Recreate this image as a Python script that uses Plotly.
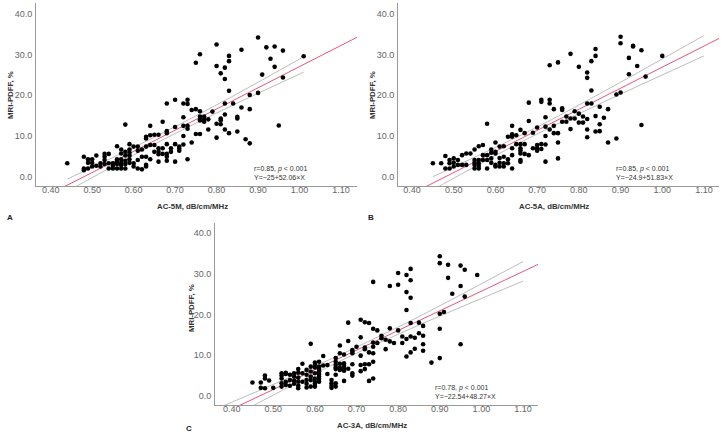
import plotly.graph_objects as go

W, H = 724, 435

# ---------------- data ----------------
A_x = [0.90,0.80,0.92,0.94,0.76,0.86,0.96,0.83,1.01,0.75,
       0.83,0.93,0.80,0.82,0.94,0.81,0.91,0.82,0.96,0.83,
       0.90,0.88,0.82,0.84,0.70,0.68,0.73,0.73,0.72,0.74,
       0.75,0.76,0.79,0.86,0.88,0.72,0.76,0.76,0.77,0.77,
       0.77,0.78,0.76,0.81,0.81,0.82,0.85,0.85,0.67,0.58,
       0.64,0.72,0.73,0.73,0.70,0.68,0.68,0.80,0.81,0.78,
       0.82,0.80,0.83,0.85,0.95,0.75,0.76,0.72,0.66,0.65,
       0.63,0.63,0.64,0.87,0.88,0.74,
       0.70,0.72,0.71,0.71,0.71,0.68,0.69,0.69,0.67,0.64,
       0.65,0.66,0.66,0.66,0.66,0.65,0.67,0.68,0.68,0.68,
       0.70,0.73,0.63,0.62,0.61,0.61,0.60,0.59,0.59,0.59,
       0.59,0.59,0.59,0.58,0.58,0.58,0.58,0.58,0.57,0.57,
       0.57,0.57,0.57,0.57,0.56,0.56,0.56,0.56,0.56,0.55,
       0.55,0.55,0.54,0.54,0.54,0.53,0.53,0.53,0.53,0.52,
       0.52,0.51,0.51,0.50,0.50,0.50,0.49,0.49,0.49,0.48,
       0.48,0.48,0.44,0.61,0.60,0.60,0.62,0.63,0.63,0.64,
       0.62,0.63,0.61]
A_y = [34.2,32.5,31.8,32.0,30.1,31.2,31.0,29.7,29.6,28.0,
       28.4,29.0,27.2,26.8,27.0,25.4,25.1,24.0,24.4,21.1,
       20.6,20.1,18.0,18.0,18.9,18.0,18.9,17.9,18.0,16.4,
       16.6,16.1,16.0,17.0,16.6,14.6,14.8,14.1,14.8,14.1,
       13.5,14.1,13.8,14.3,13.9,15.3,14.7,14.3,13.5,12.8,
       12.5,12.5,12.5,11.8,12.2,11.2,10.7,13.0,12.9,11.6,
       11.6,9.6,10.7,11.1,12.6,10.5,10.5,10.0,10.3,10.3,
       9.8,9.4,10.2,9.2,8.2,8.4,
       8.0,7.9,7.4,6.9,6.4,8.0,7.0,6.1,7.0,7.8,
       7.8,7.0,6.1,5.5,3.7,6.1,5.6,5.6,4.9,3.9,
       3.7,4.3,7.4,6.7,7.4,6.4,7.4,8.0,6.7,5.9,
       5.2,4.3,3.4,6.1,5.2,3.9,3.1,2.0,6.7,5.7,
       4.3,3.4,2.9,2.0,7.5,4.3,3.7,3.1,2.0,3.3,
       2.7,2.0,5.6,3.3,2.0,5.6,4.9,4.1,3.1,3.3,
       2.5,5.2,2.7,4.3,3.4,2.5,4.3,3.4,2.0,4.9,
       2.0,1.6,3.3,2.0,2.5,3.3,1.8,2.5,2.9,4.3,
       4.9,4.9,4.1]

B_x = [0.90,0.90,0.93,0.93,0.95,0.84,0.78,1.00,0.84,0.92,
       0.75,0.83,0.73,0.80,0.94,0.82,0.82,0.92,0.96,0.83,
       0.90,0.89,0.82,0.83,0.71,0.71,0.73,0.73,0.68,0.85,
       0.87,0.76,0.76,0.74,0.79,0.80,0.84,0.86,0.72,0.77,
       0.78,0.76,0.77,0.79,0.81,0.82,0.80,0.81,0.85,
       0.68,0.58,0.64,0.66,0.70,0.72,0.74,0.73,0.78,0.82,
       0.84,0.85,0.95,0.74,0.75,0.69,0.64,0.65,0.63,0.64,
       0.67,0.72,0.82,0.89,0.75,0.87,0.60,0.62,0.61,0.65,
       0.66,0.67,0.70,0.71,0.72,0.66,0.66,0.66,0.66,0.66,
       0.69,0.70,0.70,0.71,0.64,0.64,0.67,0.68,0.72,0.75,
       0.56,0.57,0.59,0.59,0.60,0.60,0.55,0.54,0.53,0.52,
       0.57,0.58,0.58,0.57,0.59,0.59,0.55,0.55,0.55,0.55,
       0.56,0.56,0.56,0.56,0.53,0.52,0.51,0.51,0.50,0.50,
       0.50,0.49,0.49,0.49,0.48,0.48,0.47,0.45,0.61,0.61,
       0.60,0.60,0.62,0.62,0.63,0.64,0.58,0.61,0.62,0.63]
B_y = [34.4,32.8,32.2,32.0,31.1,31.4,30.2,29.7,29.7,29.2,
       28.1,28.4,27.4,27.0,27.2,25.6,24.3,25.2,24.6,21.2,
       20.7,20.2,18.0,18.0,18.9,18.4,18.9,18.0,18.2,17.2,
       16.6,16.8,16.4,16.6,16.1,15.5,14.9,14.5,14.6,14.8,
       14.3,13.5,13.5,14.3,14.8,14.2,13.3,13.3,12.9,
       13.7,13.0,12.5,11.5,12.1,12.3,12.5,11.6,11.7,11.6,
       11.1,11.2,12.7,10.7,10.7,10.8,10.4,10.2,9.8,9.8,
       10.7,10.0,9.7,9.4,8.4,8.4,8.4,7.5,7.4,8.0,
       8.0,8.0,7.8,8.0,7.9,7.0,6.4,5.7,4.1,3.7,
       7.0,7.0,6.4,6.8,7.0,5.3,5.6,5.3,3.7,4.5,
       7.5,7.8,6.7,5.9,6.1,5.7,6.7,5.7,5.7,5.3,
       5.3,5.3,4.1,4.1,4.5,3.4,4.1,3.4,2.9,2.0,
       4.1,3.3,2.6,2.0,2.9,2.9,2.9,4.1,4.5,3.4,
       2.5,4.1,3.3,2.0,5.1,2.0,3.3,3.3,3.4,2.5,
       2.9,2.5,3.3,2.5,3.3,2.0,2.0,4.6,4.9,4.3]

C_x = [0.90,0.90,0.92,0.95,0.96,0.83,0.80,0.99,0.82,0.92,
       0.83,0.74,0.80,0.78,0.95,0.82,0.93,0.83,0.96,0.82,
       0.91,0.90,0.71,0.72,0.73,0.68,0.83,0.85,0.86,0.78,
       0.74,0.75,0.80,0.90,0.85,0.86,0.76,0.76,0.71,0.81,
       0.83,0.84,0.82,0.77,0.78,0.79,0.81,0.68,0.75,0.74,
       0.74,0.86,0.95,0.66,0.72,0.72,0.70,0.69,0.69,0.69,
       0.77,0.84,0.86,0.83,0.59,0.62,0.66,0.67,0.71,0.73,
       0.74,0.82,0.90,0.88,0.74,0.65,0.65,0.63,0.60,0.61,
       0.67,0.66,0.69,0.72,0.71,0.73,0.65,0.65,0.65,0.66,
       0.66,0.67,0.67,0.67,0.68,0.69,0.69,0.72,0.71,0.67,
       0.73,0.74,0.65,0.65,0.65,0.64,0.64,0.64,0.64,0.63,
       0.62,0.61,0.61,0.61,0.61,0.61,0.61,0.61,0.60,0.60,
       0.60,0.60,0.60,0.60,0.60,0.59,0.59,0.59,0.59,0.59,
       0.58,0.58,0.58,0.58,0.58,0.57,0.57,0.57,0.56,0.56,
       0.56,0.56,0.56,0.56,0.55,0.55,0.55,0.55,0.54,0.54,
       0.54,0.53,0.53,0.53,0.53,0.52,0.52,0.52,0.52,0.52,
       0.49,0.48,0.48,0.48,0.47,0.47,0.45,0.50]
C_y = [34.3,32.6,32.2,32.0,31.0,31.2,30.2,29.7,29.7,29.0,
       28.4,28.0,27.3,27.0,27.0,25.5,25.1,24.1,24.4,21.1,
       20.6,20.2,18.7,18.1,17.9,18.0,17.9,18.0,17.2,16.6,
       16.5,16.1,16.1,16.5,15.4,14.8,14.8,14.2,14.4,14.6,
       14.6,14.3,14.0,13.8,13.4,13.0,13.0,13.5,13.0,13.1,
       12.1,12.7,12.7,12.4,11.9,11.5,12.1,11.3,10.9,10.5,
       11.5,11.6,11.1,10.7,12.8,9.8,10.5,10.2,9.9,10.7,
       10.5,9.7,9.3,8.2,8.4,9.3,8.4,7.6,8.2,8.4,
       8.0,7.9,7.8,7.8,7.6,7.8,7.6,7.0,6.6,6.9,
       6.4,7.4,6.7,6.2,6.7,5.6,5.0,6.6,6.1,3.7,
       3.7,4.3,5.2,3.1,2.3,3.9,3.1,2.5,2.0,5.4,
       7.5,7.2,6.6,6.1,5.4,4.8,4.2,3.5,7.6,7.0,
       5.6,4.3,3.5,3.0,2.3,7.2,6.0,4.8,3.9,2.3,
       6.4,5.2,3.9,3.0,2.1,7.9,5.6,3.5,6.6,5.7,
       4.5,3.5,2.5,1.9,5.6,4.8,3.8,3.0,5.2,3.9,
       2.5,5.7,5.4,3.5,2.7,5.6,5.0,4.3,3.1,2.3,
       3.8,5.0,4.3,1.9,3.3,2.0,3.3,2.0]

# regression coefficients (from the printed equations)
A_fit = (-25.0, 52.06)
B_fit = (-24.9, 51.83)
C_fit = (-22.54, 48.27)

# 95% CI bands
A_ci_x = [0.44, 0.60, 0.70, 0.85, 1.01]
A_ci_up = [-0.6, 7.2, 12.3, 20.4, 29.5]
A_ci_lo = [-3.6, 5.3, 10.6, 18.1, 25.7]
B_ci_x = [0.45, 0.60, 0.70, 0.85, 1.10]
B_ci_up = [0.0, 7.2, 12.2, 20.4, 34.7]
B_ci_lo = [-3.2, 5.2, 10.5, 17.9, 29.7]
C_ci_x = [0.36, 0.60, 0.70, 0.85, 1.10]
C_ci_up = [-3.3, 7.3, 12.0, 19.5, 33.0]
C_ci_lo = [-7.3, 5.5, 10.5, 17.4, 28.2]

x_titles = ["AC-5M, dB/cm/MHz", "AC-5A, dB/cm/MHz", "AC-3A, dB/cm/MHz"]
y_title = "MRI-PDFF, %"
stats_r = ["r=0.85, <i>p</i> &lt; 0.001", "r=0.85, <i>p</i> &lt; 0.001", "r=0.78, <i>p</i> &lt; 0.001"]
stats_eq = ["Y=\u221225+52.06\u00d7X", "Y=\u221224.9+51.83\u00d7X", "Y=\u221222.54+48.27\u00d7X"]
panel_letters = ["A", "B", "C"]
x_ticks = [0.40, 0.50, 0.60, 0.70, 0.80, 0.90, 1.00, 1.10]
y_ticks = [0, 10, 20, 30, 40]

# ---------------- layout geometry (pixels) ----------------
# (left, right, top, bottom, xmin, xmax, ymin, ymax)
panels = [
    (36, 357, 3, 186, 0.3646, 1.1386, -2.29, 42.7),
    (398, 719, 3, 186, 0.3664, 1.136, -2.29, 42.7),
    (215, 538, 223, 405, 0.360, 1.136, -2.21, 42.46),
]
xt_pos = [(192, 206), (554, 206), (372, 425)]
yt_pos = [(10, 95), (372, 95), (191, 308)]
letter_pos = [(5, 217), (366, 217), (184, 428)]

FONT = "Liberation Sans, Arial, sans-serif"
RED = "#e8557a"
GRAY = "#bdbdbd"

fig = go.Figure()
data = [(A_x, A_y, A_fit, A_ci_x, A_ci_up, A_ci_lo),
        (B_x, B_y, B_fit, B_ci_x, B_ci_up, B_ci_lo),
        (C_x, C_y, C_fit, C_ci_x, C_ci_up, C_ci_lo)]

annotations = []
for i, (px, py, fit, cx, cu, cl) in enumerate(data):
    n = "" if i == 0 else str(i + 1)
    xa, ya = "x" + n, "y" + n
    l, r, t, b, x0, x1, y0, y1 = panels[i]
    fig.add_trace(go.Scatter(x=cx, y=cu, mode="lines", line=dict(color=GRAY, width=1),
                             line_shape="spline", xaxis=xa, yaxis=ya, hoverinfo="skip"))
    fig.add_trace(go.Scatter(x=cx, y=cl, mode="lines", line=dict(color=GRAY, width=1),
                             line_shape="spline", xaxis=xa, yaxis=ya, hoverinfo="skip"))
    fx = [x0, x1]
    fy = [fit[0] + fit[1] * v for v in fx]
    fig.add_trace(go.Scatter(x=fx, y=fy, mode="lines", line=dict(color=RED, width=1),
                             xaxis=xa, yaxis=ya, hoverinfo="skip"))
    fig.add_trace(go.Scatter(x=px, y=py, mode="markers",
                             marker=dict(color="black", size=4.6, line=dict(width=0)),
                             xaxis=xa, yaxis=ya, cliponaxis=False))
    axcommon = dict(showgrid=False, zeroline=False, showline=True, linecolor="#9a9a9a",
                    linewidth=1, ticks="", tickfont=dict(family=FONT, size=9, color="#666666"))
    fig.layout["xaxis" + n] = dict(axcommon, domain=[l / W, r / W], range=[x0, x1],
                                   anchor=ya, tickvals=x_ticks, tickformat=".2f",
                                   ticklabelstandoff=-5)
    fig.layout["yaxis" + n] = dict(axcommon, domain=[1 - b / H, 1 - t / H], range=[y0, y1],
                                   anchor=xa, tickvals=y_ticks, tickformat=".1f",
                                   ticklabelstandoff=1)
    # axis titles
    annotations.append(dict(text="<b>" + x_titles[i] + "</b>", x=xt_pos[i][0] / W,
                            y=1 - xt_pos[i][1] / H,
                            xref="paper", yref="paper", showarrow=False,
                            font=dict(family=FONT, size=7.8, color="#333333"),
                            xanchor="center", yanchor="middle"))
    annotations.append(dict(text="<b>" + y_title + "</b>", x=yt_pos[i][0] / W,
                            y=1 - yt_pos[i][1] / H,
                            xref="paper", yref="paper", showarrow=False, textangle=-90,
                            font=dict(family=FONT, size=7.8, color="#333333"),
                            xanchor="center", yanchor="middle"))
    # stats text
    sx = (l + 0.677 * (r - l)) / W
    annotations.append(dict(text=stats_r[i], x=sx, y=1 - (b - 17.5) / H, xref="paper", yref="paper",
                            showarrow=False, xanchor="left", yanchor="middle", borderpad=0,
                            font=dict(family=FONT, size=7, color="#333333")))
    annotations.append(dict(text=stats_eq[i], x=sx, y=1 - (b - 8.5) / H, xref="paper", yref="paper",
                            showarrow=False, xanchor="left", yanchor="middle", borderpad=0,
                            font=dict(family=FONT, size=7, color="#333333")))
    annotations.append(dict(text="<b>" + panel_letters[i] + "</b>", x=letter_pos[i][0] / W,
                            y=1 - letter_pos[i][1] / H, xref="paper", yref="paper",
                            showarrow=False, xanchor="left", yanchor="middle",
                            font=dict(family=FONT, size=8, color="#222222")))

fig.update_layout(width=W, height=H, margin=dict(l=0, r=0, t=0, b=0),
                  paper_bgcolor="white", plot_bgcolor="white", showlegend=False,
                  annotations=annotations)
fig.write_html("out.html", config={"displayModeBar": False},
               post_script="document.body.style.margin='0';document.body.style.overflow='hidden';")
